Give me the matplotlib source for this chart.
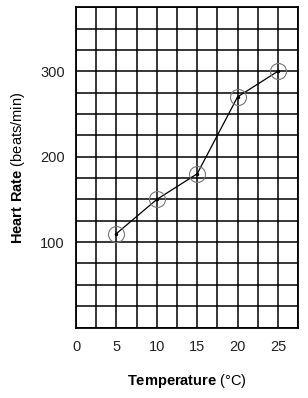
import numpy as np
import matplotlib
matplotlib.use("Agg")
from matplotlib import pyplot as plt

# dados
temperatura = [5, 10, 15, 20, 25]
batimentos = [110, 150, 180, 270, 300]
xticks = [0, 5, 10, 15, 20, 25]
yticks = [100, 200, 300]

plt.rcParams['font.family'] = ['Liberation Sans', 'DejaVu Sans']
plt.rcParams['mathtext.fontset'] = 'custom'
plt.rcParams['mathtext.rm'] = 'Liberation Sans'
plt.rcParams['mathtext.bf'] = 'Liberation Sans:bold'

fig = plt.figure(figsize=(3.08, 3.98), dpi=100)
ax = fig.add_axes([0.247, 0.177, 0.721, 0.805])

ax.set_xlim(0, 27.5)
ax.set_ylim(0, 375)

# grade quadriculada
for gx in np.arange(0, 27.6, 2.5):
    ax.axvline(gx, color='black', lw=1.1, zorder=1)
for gy in np.arange(0, 376, 25):
    ax.axhline(gy, color='black', lw=1.1, zorder=1)

ax.plot(temperatura, batimentos, '-', color='black', lw=0.9, zorder=3)
ax.plot(temperatura, batimentos, 'o', ms=11.5, mfc='none', mec='#777777',
        mew=0.8, ls='none', zorder=4)
ax.plot(temperatura, batimentos, '.', ms=3, color='black', zorder=5)

ax.set_xticks(xticks)
ax.set_yticks(yticks)
ax.tick_params(length=0, labelsize=10.5, colors='#222222')
ax.tick_params(axis='x', pad=9)
ax.tick_params(axis='y', pad=8)
for s in ax.spines.values():
    s.set_linewidth(1.3)

# rotulos dos eixos
fig.text(187 / 308, 1 - 381 / 398, r'$\bf{Temperature}$ (°C)', fontsize=10.5,
         ha='center', va='center')
fig.text(18 / 308, 1 - 168 / 398, r'$\bf{Heart\ Rate}$ (beats/min)', fontsize=10.5,
         ha='center', va='center', rotation=90)

fig.savefig('out.png', dpi=100)
